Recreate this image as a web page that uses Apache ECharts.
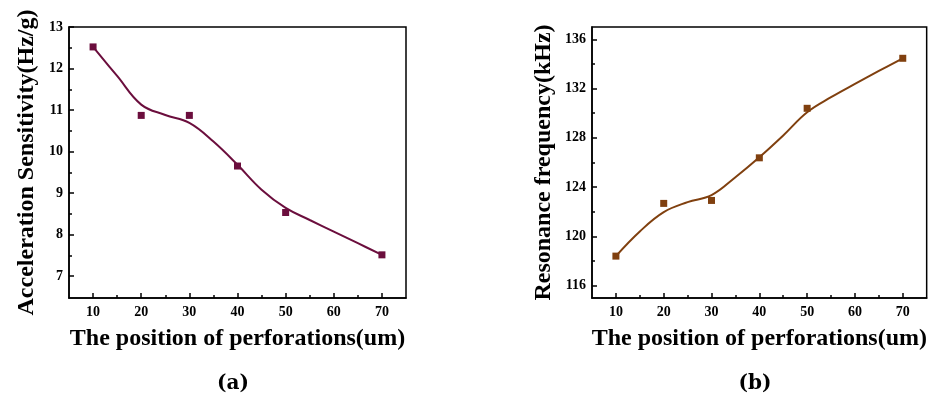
<!DOCTYPE html>
<html>
<head>
<meta charset="utf-8">
<script src="https://cdn.jsdelivr.net/npm/echarts@6/dist/echarts.min.js"></script>
<style>
  html, body { margin: 0; padding: 0; background: #fff; }
  #chart-container { width: 930px; height: 399px; }
</style>
</head>
<body>
<div id="chart-container"></div>
<script>
// measured points
const posX = [10, 20, 30, 40, 50, 70];
const sensVals = [12.52, 10.87, 10.87, 9.65, 8.53, 7.51];
const freqVals = [118.4, 122.68, 122.92, 126.38, 130.4, 134.46];

// fitted curve, every 5 um
const fitX = [10, 15, 20, 25, 30, 35, 40, 45, 50, 55, 60, 65, 70];
const sensFit = [12.52, 11.82, 11.13, 10.88, 10.69, 10.24, 9.68, 9.08, 8.64, 8.35, 8.07, 7.79, 7.51];
const freqFit = [118.4, 120.4, 121.97, 122.78, 123.35, 124.81, 126.43, 128.2, 130.08, 131.3, 132.38, 133.43, 134.46];

// tick labels
const xTicks = [10, 20, 30, 40, 50, 60, 70];
const xMinor = [15, 25, 35, 45, 55, 65];
const sensTicks = [7, 8, 9, 10, 11, 12, 13];
const sensMinor = [7.5, 8.5, 9.5, 10.5, 11.5, 12.5];
const freqTicks = [116, 120, 124, 128, 132, 136];
const freqMinor = [118, 122, 126, 130, 134];

const FONT = '"Liberation Serif", "Times New Roman", serif';
const sensColor = '#6b0e3d';
const freqColor = '#80400f';

function zip(xs, ys) {
    return xs.map(function (x, i) { return [x, ys[i]]; });
}

function mainAxis(grid, min, max, ticks, margin, extra) {
    return Object.assign({
        type: 'value',
        gridIndex: grid,
        min: min,
        max: max,
        splitLine: { show: false },
        axisLine: { show: true, lineStyle: { color: '#000', width: 1.5 } },
        axisTick: { show: true, inside: true, length: 5, customValues: ticks,
                    lineStyle: { color: '#000', width: 1.5 } },
        axisLabel: { customValues: ticks, color: '#000', fontFamily: FONT,
                     fontWeight: 'bold', fontSize: 14, margin: margin }
    }, extra);
}

function minorAxis(grid, min, max, ticks, extra) {
    return Object.assign({
        type: 'value',
        gridIndex: grid,
        min: min,
        max: max,
        splitLine: { show: false },
        axisLine: { show: false },
        axisTick: { show: true, inside: true, length: 3, customValues: ticks,
                    lineStyle: { color: '#000', width: 1.5 } },
        axisLabel: { show: false }
    }, extra);
}

const nameStyle = { color: '#000', fontFamily: FONT, fontWeight: 'bold', fontSize: 24 };
const xName = 'The position of perforations(um)';

const captionRich = {
    n: { fontFamily: '"DejaVu Serif", serif', fontSize: 20, color: '#000' },
    b: { fontFamily: '"DejaVu Serif", serif', fontSize: 20, fontWeight: 'bold', color: '#000' }
};

const chart = echarts.init(document.getElementById('chart-container'));

const option = {
    animation: false,
    backgroundColor: '#fff',
    title: [
        { text: '{n|(}{b|a}{n|)}', left: 228, top: 369, textAlign: 'center',
          textStyle: { rich: captionRich } },
        { text: '{n|(}{b|b}{n|)}', left: 750, top: 369, textAlign: 'center',
          textStyle: { rich: captionRich } }
    ],
    grid: [
        { left: 69, right: 524, top: 27, bottom: 101, show: true,
          borderColor: '#000', borderWidth: 1.5, backgroundColor: 'transparent' },
        { left: 592, right: 1, top: 27, bottom: 101, show: true,
          borderColor: '#000', borderWidth: 1.5, backgroundColor: 'transparent' }
    ],
    xAxis: [
        mainAxis(0, 5, 75, xTicks, 7, { position: 'bottom', name: xName, nameLocation: 'middle',
                                         nameGap: 29, nameTextStyle: nameStyle }),
        minorAxis(0, 5, 75, xMinor, { position: 'bottom' }),
        mainAxis(1, 5, 75, xTicks, 7, { position: 'bottom', name: xName, nameLocation: 'middle',
                                         nameGap: 29, nameTextStyle: nameStyle }),
        minorAxis(1, 5, 75, xMinor, { position: 'bottom' })
    ],
    yAxis: [
        mainAxis(0, 6.47, 13, sensTicks, 6, { position: 'left', name: 'Acceleration Sensitivity(Hz/g)',
                                               nameLocation: 'middle', nameGap: 30, nameTextStyle: nameStyle }),
        minorAxis(0, 6.47, 13, sensMinor, { position: 'left' }),
        mainAxis(1, 115, 137, freqTicks, 6, { position: 'left', name: 'Resonance frequency(kHz)',
                                               nameLocation: 'middle', nameGap: 36, nameTextStyle: nameStyle }),
        minorAxis(1, 115, 137, freqMinor, { position: 'left' })
    ],
    series: [
        { type: 'line', xAxisIndex: 0, yAxisIndex: 0, data: zip(fitX, sensFit), smooth: 0.4,
          showSymbol: false, lineStyle: { color: sensColor, width: 2 }, z: 2 },
        { type: 'scatter', xAxisIndex: 0, yAxisIndex: 0, data: zip(posX, sensVals),
          symbol: 'rect', symbolSize: 7, itemStyle: { color: sensColor, opacity: 1 }, z: 3 },
        { type: 'line', xAxisIndex: 2, yAxisIndex: 2, data: zip(fitX, freqFit), smooth: 0.4,
          showSymbol: false, lineStyle: { color: freqColor, width: 2 }, z: 2 },
        { type: 'scatter', xAxisIndex: 2, yAxisIndex: 2, data: zip(posX, freqVals),
          symbol: 'rect', symbolSize: 7, itemStyle: { color: freqColor, opacity: 1 }, z: 3 }
    ]
};

chart.setOption(option);
</script>
</body>
</html>
